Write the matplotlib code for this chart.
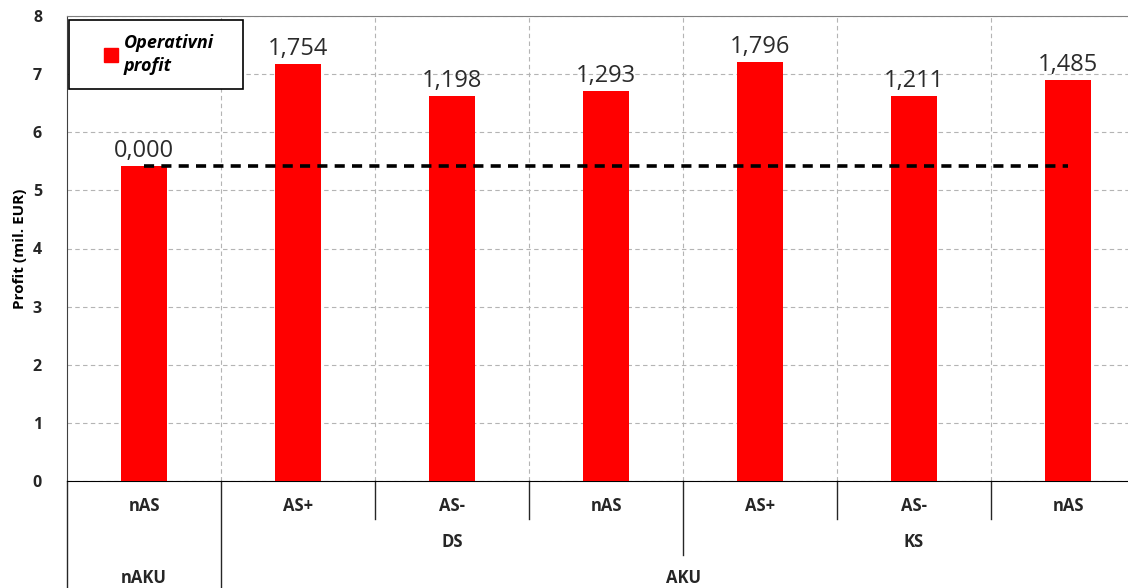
import matplotlib.pyplot as plt
import matplotlib.transforms as mtransforms
from matplotlib.lines import Line2D

plt.rcParams['font.family'] = ['Open Sans', 'DejaVu Sans']

# bar categories (three-level axis)
scenario = ['nAS', 'AS+', 'AS-', 'nAS', 'AS+', 'AS-', 'nAS']
storage = ['DS', 'KS']                # groups over bars 1-3 and 4-6
battery = ['nAKU', 'AKU']             # bar 0 / bars 1-6
# profit gain over the reference case (mil. EUR)
gain = [0.000, 1.754, 1.198, 1.293, 1.796, 1.211, 1.485]
base_profit = 5.42

profit = [base_profit + g for g in gain]
x = list(range(len(profit)))

fig = plt.figure(figsize=(11.28, 5.88), dpi=100)
ax = fig.add_axes([67 / 1128, 107 / 588, 1078 / 1128, 465 / 588])

ax.bar(x, profit, width=0.305, color='#ff0000', zorder=3)
ax.plot([x[0], x[-1]], [base_profit, base_profit], color='black', lw=2.6,
        dashes=(2.8, 2.0), zorder=4)

for xi, p, g in zip(x, profit, gain):
    ax.text(xi, p + 0.05, f'{g:.3f}'.replace('.', ','), ha='center', va='bottom',
            fontsize=17, color='#2b2b2b', zorder=5)

ax.set_xlim(-0.5, 6.5)
ax.set_ylim(0, 8)
ax.set_yticks(range(9))
ax.tick_params(axis='y', length=0, pad=18, labelsize=11.5, labelcolor='#262626')
for lab in ax.get_yticklabels():
    lab.set_fontweight('bold')
ax.set_xticks([i + 0.5 for i in x[:-1]])
ax.set_xticklabels([])
ax.tick_params(axis='x', length=0)
ax.grid(True, color='#b4b4b4', ls=(0, (4, 3)), lw=0.8, zorder=0)
ax.set_ylabel('Profit (mil. EUR)', fontsize=11, fontweight='bold')
ax.yaxis.set_label_coords(-40 / 1078, 0.5)

ax.spines['right'].set_visible(False)
ax.spines['top'].set_color('#808080')
ax.spines['left'].set_color('#404040')
ax.spines['bottom'].set_color('black')

# multi-level category labels under the axis
trans = mtransforms.blended_transform_factory(ax.transData, ax.transAxes)
for xi, s in zip(x, scenario):
    ax.text(xi, -0.054, s, transform=trans, ha='center', va='center',
            fontsize=12, fontweight='bold', color='#262626')
for xc, s in zip([2, 5], storage):
    ax.text(xc, -0.131, s, transform=trans, ha='center', va='center',
            fontsize=12, fontweight='bold', color='#262626')
for xc, s in zip([0, 3.5], battery):
    ax.text(xc, -0.209, s, transform=trans, ha='center', va='center',
            fontsize=12, fontweight='bold', color='#262626')

# separator lines between the label groups
seps = [(-0.5, -0.25), (0.5, -0.25), (1.5, -0.082), (2.5, -0.082),
        (3.5, -0.159), (4.5, -0.082), (5.5, -0.082)]
for xs, y_end in seps:
    ax.plot([xs, xs], [0, y_end], transform=trans, color='#262626', lw=1,
            clip_on=False)

handle = Line2D([], [], marker='s', color='#ff0000', ls='none', markersize=9.5)
leg_top = 1 - 4 / 465
leg = ax.legend([handle], ['Operativni\nprofit'], loc='upper left',
                bbox_to_anchor=(2 / 1078, leg_top - 0.2, 174 / 1078, 0.2),
                mode='expand', borderaxespad=0,
                fancybox=False, edgecolor='black', framealpha=1,
                borderpad=0.75, handlelength=3.2, handletextpad=-0.9,
                prop={'weight': 'bold', 'style': 'italic', 'size': 13})
leg.get_frame().set_linewidth(1.2)
leg.get_texts()[0].set_linespacing(1.4)
leg.set_zorder(6)

fig.savefig('out.png', dpi=100)
